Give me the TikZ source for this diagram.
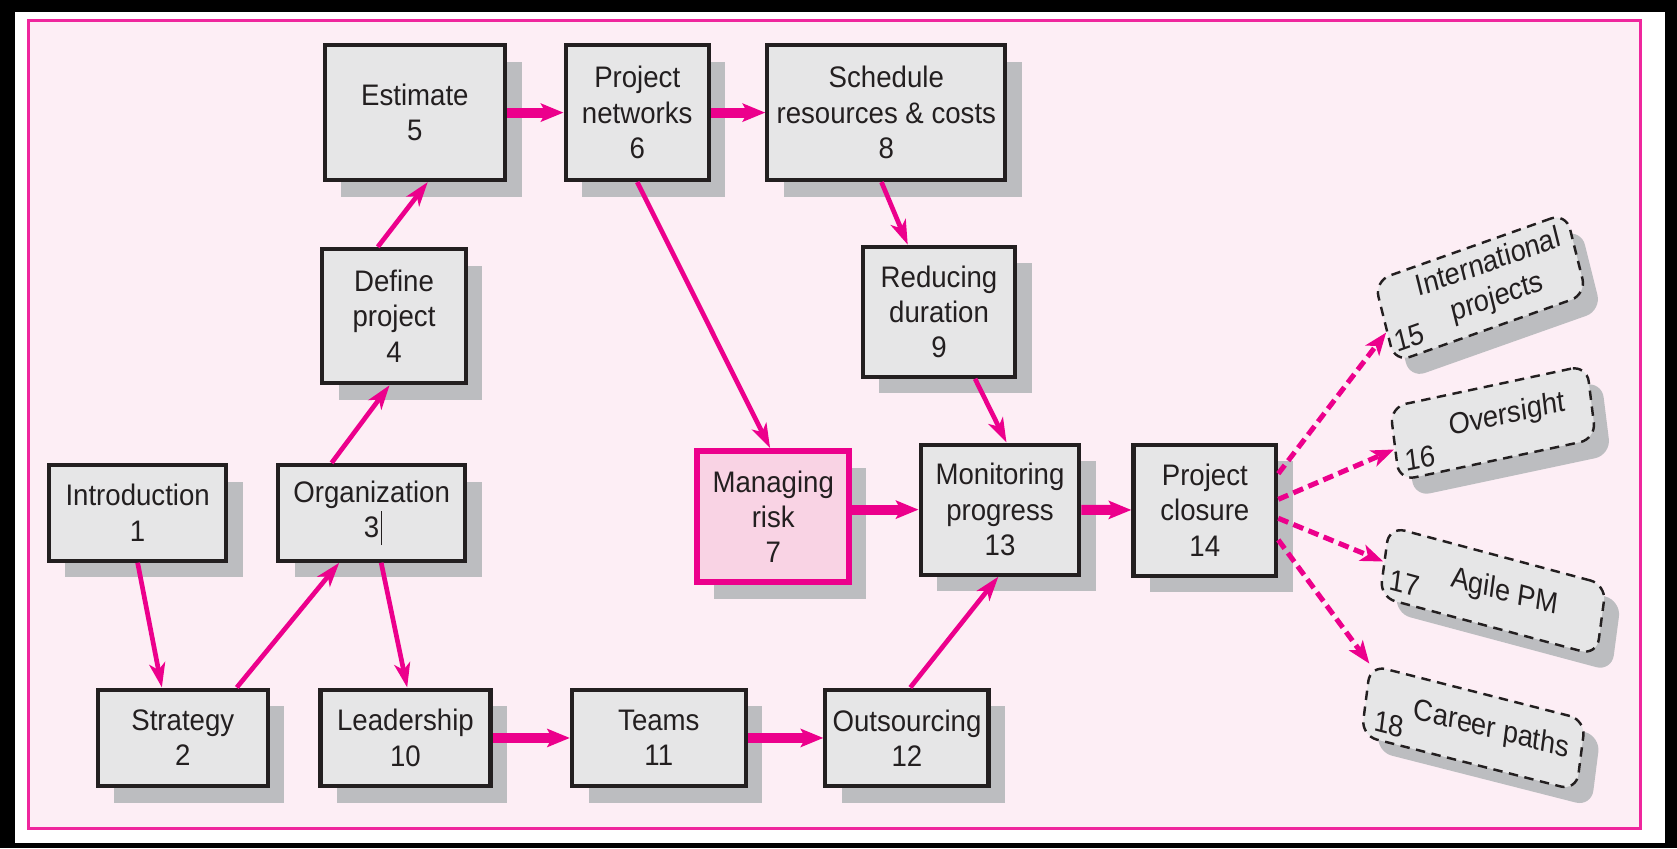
\documentclass[tikz,border=0pt]{standalone}
\usepackage{fontspec}
\setmainfont{Liberation Sans}[FakeStretch=0.93]
\usepackage{xcolor}
\usepackage{tikz}
\usetikzlibrary{arrows.meta,calc,shadows}
\definecolor{rose}{RGB}{236,0,140}
\definecolor{blush}{RGB}{253,238,245}
\definecolor{boxgrey}{RGB}{230,230,231}
\definecolor{shade}{RGB}{188,189,192}
\definecolor{ink}{RGB}{35,31,32}
\definecolor{riskpink}{RGB}{249,211,228}

\begin{document}
\begin{tikzpicture}[x=0.02cm, y=-0.02cm,
  font=\fontsize{15.8}{18.8}\selectfont, text=ink,
  boxsize/.style 2 args={minimum width=#1cm, minimum height=#2cm},
  stage/.style={draw=ink, line width=2.2pt, fill=boxgrey, align=center, inner sep=1pt,
    general shadow={fill=shade, shadow xshift=0.31cm, shadow yshift=-0.31cm}},
  riskstage/.style={stage, draw=rose, line width=3.2pt, fill=riskpink},
  topic/.style={draw=ink, line width=1.3pt, dash pattern=on 5pt off 3.5pt, fill=boxgrey,
    rounded corners=0.3cm, inner sep=0pt,
    general shadow={fill=shade, shadow xshift=0.28cm, shadow yshift=-0.3cm}},
  flow/.style={draw=rose, line width=2.5pt, -{Stealth[length=13pt, width=8.5pt, inset=3.5pt]}},
  bigflow/.style={draw=rose, line width=5.3pt, -{Stealth[length=12pt, width=9.6pt, inset=2.5pt]}},
  optflow/.style={draw=rose, line width=2.7pt, dash pattern=on 5.7pt off 3pt,
    -{Stealth[length=12pt, width=9pt, inset=3pt]}}
]
% outer frame and pink panel
\useasboundingbox (0,0) rectangle (1568,793);
\fill[black] (0,0) rectangle (1568,793);
\fill[white] (14,11) rectangle (1557,788.5);
\draw[rose!85, line width=1.6pt, fill=blush] (26.5,19.5) rectangle (1534,774.5);

% chapter boxes
\node[stage, boxsize={3.32}{1.79}] (n1) at (128.7,479.5) {Introduction\\1};
\node[stage, boxsize={3.18}{1.81}] (n2) at (170.9,690) {Strategy\\2};
\node[stage, boxsize={3.49}{1.79}] (n3) at (347.5,479.5) {Organization\\3\rlap{\kern1pt\rule[-4pt]{0.6pt}{18pt}}};
\node[stage, boxsize={2.68}{2.51}] (n4) at (368.4,295.5) {Define\\project\\4};
\node[stage, boxsize={3.37}{2.52}] (n5) at (387.9,105.3) {Estimate\\5};
\node[stage, boxsize={2.68}{2.52}] (n6) at (595.8,105.3) {Project\\networks\\6};
\node[riskstage, boxsize={2.85}{2.45}] (n7) at (723,483) {Managing\\risk\\7};
\node[stage, boxsize={4.45}{2.52}] (n8) at (828.7,105.3) {Schedule\\resources \& costs\\8};
\node[stage, boxsize={2.85}{2.43}] (n9) at (878,291.5) {Reducing\\duration\\9};
\node[stage, boxsize={3.18}{1.81}] (n10) at (379.1,690) {Leadership\\10};
\node[stage, boxsize={3.25}{1.81}] (n11) at (616,690) {Teams\\11};
\node[stage, boxsize={3.05}{1.81}] (n12) at (848,690) {Outsourcing\\12};
\node[stage, boxsize={2.97}{2.43}] (n13) at (935,476.5) {Monitoring\\progress\\13};
\node[stage, boxsize={2.67}{2.45}] (n14) at (1126.5,477) {Project\\closure\\14};

% optional topics, tilted
\begin{scope}[shift={(1384.2,269)}, rotate=19.5, xslant=0.096, transform shape]
  \node[topic, boxsize={3.8}{1.56}] (n15) at (0,0) {};
  \node[align=center, inner sep=0pt] (t15) at (13,-2) {International\\projects};
  \node[inner sep=0pt] (k15) at (-76,22) {15};
\end{scope}
\begin{scope}[shift={(1395.9,395.5)}, rotate=12, xslant=0.086, transform shape]
  \node[topic, boxsize={3.76}{1.38}] (n16) at (0,0) {};
  \node[inner sep=0pt] (t16) at (14,-4) {Oversight};
  \node[inner sep=0pt] (k16) at (-72,18) {16};
\end{scope}
\begin{scope}[shift={(1395.9,552.5)}, rotate=-15, xslant=-0.13, transform shape]
  \node[topic, boxsize={4.2}{1.32}] (n17) at (0,0) {};
  \node[inner sep=0pt] (t17) at (11,-1) {Agile PM};
  \node[inner sep=0pt] (k17) at (-83,14.5) {17};
\end{scope}
\begin{scope}[shift={(1377.6,680.5)}, rotate=-14.3, xslant=-0.123, transform shape]
  \node[topic, boxsize={4.15}{1.32}] (n18) at (0,0) {};
  \node[inner sep=0pt] (t18) at (17,-2) {Career paths};
  \node[inner sep=0pt] (k18) at (-79,16.5) {18};
\end{scope}

% thin links
\draw[flow] (n1.south) -- ($(n2.north west)!.38!(n2.north east)$);
\draw[flow] ($(n2.north west)!.81!(n2.north east)$) -- ($(n3.south west)!.33!(n3.south east)$);
\draw[flow] ($(n3.north west)!.29!(n3.north east)$) -- ($(n4.south west)!.47!(n4.south east)$);
\draw[flow] ($(n4.north west)!.39!(n4.north east)$) -- ($(n5.south west)!.57!(n5.south east)$);
\draw[flow] ($(n3.south west)!.55!(n3.south east)$) -- ($(n10.north west)!.51!(n10.north east)$);
\draw[flow] (n6.south) -- ($(n7.north west)!.48!(n7.north east)$);
\draw[flow] ($(n8.south west)!.48!(n8.south east)$) -- ($(n9.north west)!.3!(n9.north east)$);
\draw[flow] ($(n9.south west)!.73!(n9.south east)$) -- ($(n13.north west)!.54!(n13.north east)$);
\draw[flow] ($(n12.north west)!.52!(n12.north east)$) -- ($(n13.south west)!.49!(n13.south east)$);
% heavy links
\draw[bigflow] (n5) -- (n6);
\draw[bigflow] (n6) -- (n8);
\draw[bigflow] (n7.east |- n13) -- (n13);
\draw[bigflow] (n10) -- (n11);
\draw[bigflow] (n11) -- (n12);
\draw[bigflow] (n13) -- (n14);
% dashed links to the optional topics
\draw[optflow] ($(n14.north east)!.23!(n14.south east)$) -- (n15.186);
\draw[optflow] ($(n14.north east)!.42!(n14.south east)$) -- (n16.183);
\draw[optflow] ($(n14.north east)!.56!(n14.south east)$) -- (n17.west);
\draw[optflow] ($(n14.north east)!.72!(n14.south east)$) -- (n18.north west);
\end{tikzpicture}
\end{document}
